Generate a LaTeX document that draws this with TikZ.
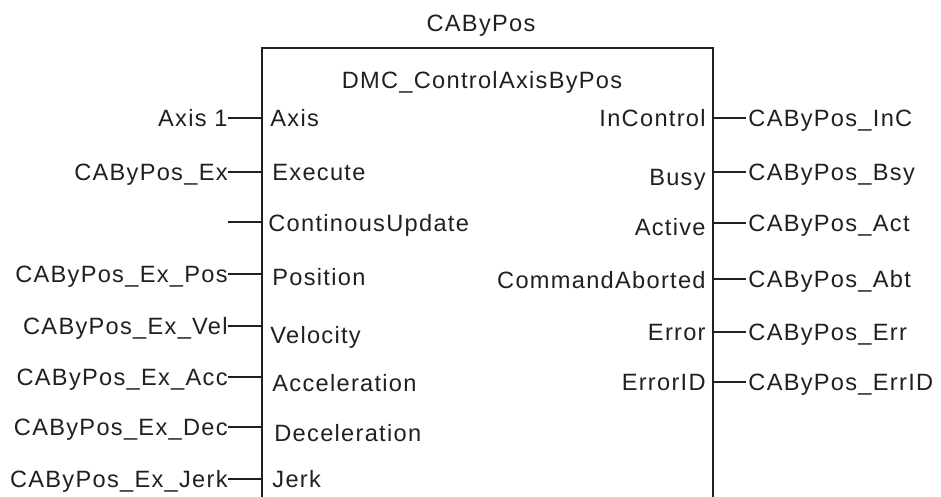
\documentclass[tikz,border=0pt]{standalone}
\usepackage{fontspec}
\setmainfont{Liberation Sans}[LetterSpace=5.5]
\usetikzlibrary{positioning}
\definecolor{fbink}{HTML}{231F20}
\tikzset{
  fbtext/.style={font=\fontsize{11.8}{13}\selectfont, text=fbink, inner sep=0pt,
    text height=8.4pt, text depth=0pt},
  pinin/.style={fbtext, anchor=west},
  pinout/.style={fbtext, anchor=east},
  sigin/.style={fbtext, anchor=east},
  sigout/.style={fbtext, anchor=west},
  wire/.style={draw=fbink, line width=0.8pt},
}

\begin{document}
\begin{tikzpicture}[x=0.5pt, y=-0.5pt]
\useasboundingbox (0,0) rectangle (941,497);

% Function block, open at the bottom.
\coordinate (bl) at (262,497);
\coordinate (tl) at (262,48);
\coordinate (tr) at (713,48);
\coordinate (br) at (713,497);
\draw[wire] (bl) -- (tl) -- (tr) -- (br);

\node[fbtext] (inst) at (481,23) {CAByPos};
\node[fbtext] (fbname) at (482,80) {DMC\_ControlAxisByPos};

% Inputs.
\node[pinin] (pAxis) at (270,118) {Axis};
\node[pinin] (pEx)   at (272,172) {Execute};
\node[pinin] (pUpd)  at (268,223) {ContinousUpdate};
\node[pinin] (pPos)  at (272,277) {Position};
\node[pinin] (pVel)  at (270,335) {Velocity};
\node[pinin] (pAcc)  at (272,383) {Acceleration};
\node[pinin] (pDec)  at (274,433) {Deceleration};
\node[pinin] (pJerk) at (272,479) {Jerk};

\node[sigin] (sAxis) at (228,118) {Axis 1};
\node[sigin] (sEx)   at (228,172) {CAByPos\_Ex};
\coordinate  (sUpd)  at (228,222);
\node[sigin] (sPos)  at (228,274) {CAByPos\_Ex\_Pos};
\node[sigin] (sVel)  at (228,326) {CAByPos\_Ex\_Vel};
\node[sigin] (sAcc)  at (228,377) {CAByPos\_Ex\_Acc};
\node[sigin] (sDec)  at (228,427) {CAByPos\_Ex\_Dec};
\node[sigin] (sJerk) at (228,479) {CAByPos\_Ex\_Jerk};

\draw[wire] (sAxis.east) -- (sAxis.east -| tl);
\draw[wire] (sEx.east) -- (sEx.east -| tl);
\draw[wire] (sUpd) -- (sUpd -| tl);
\draw[wire] (sPos.east) -- (sPos.east -| tl);
\draw[wire] (sVel.east) -- (sVel.east -| tl);
\draw[wire] (sAcc.east) -- (sAcc.east -| tl);
\draw[wire] (sDec.east) -- (sDec.east -| tl);
\draw[wire] (sJerk.east) -- (sJerk.east -| tl);

% Outputs.
\node[pinout] (pInC) at (706,118) {InControl};
\node[pinout] (pBsy) at (706,177) {Busy};
\node[pinout] (pAct) at (706,227) {Active};
\node[pinout] (pAbt) at (706,280) {CommandAborted};
\node[pinout] (pErr) at (706,332) {Error};
\node[pinout] (pEID) at (706,382) {ErrorID};

\node[sigout] (oInC) at (748,118) {CAByPos\_InC};
\node[sigout] (oBsy) at (748,172) {CAByPos\_Bsy};
\node[sigout] (oAct) at (748,223) {CAByPos\_Act};
\node[sigout] (oAbt) at (748,279) {CAByPos\_Abt};
\node[sigout] (oErr) at (748,332) {CAByPos\_Err};
\node[sigout] (oEID) at (748,382) {CAByPos\_ErrID};

\draw[wire] (oInC.west -| tr) -- ([xshift=-1]oInC.west);
\draw[wire] (oBsy.west -| tr) -- ([xshift=-1]oBsy.west);
\draw[wire] (oAct.west -| tr) -- ([xshift=-1]oAct.west);
\draw[wire] (oAbt.west -| tr) -- ([xshift=-1]oAbt.west);
\draw[wire] (oErr.west -| tr) -- ([xshift=-1]oErr.west);
\draw[wire] (oEID.west -| tr) -- ([xshift=-1]oEID.west);

\end{tikzpicture}
\end{document}
